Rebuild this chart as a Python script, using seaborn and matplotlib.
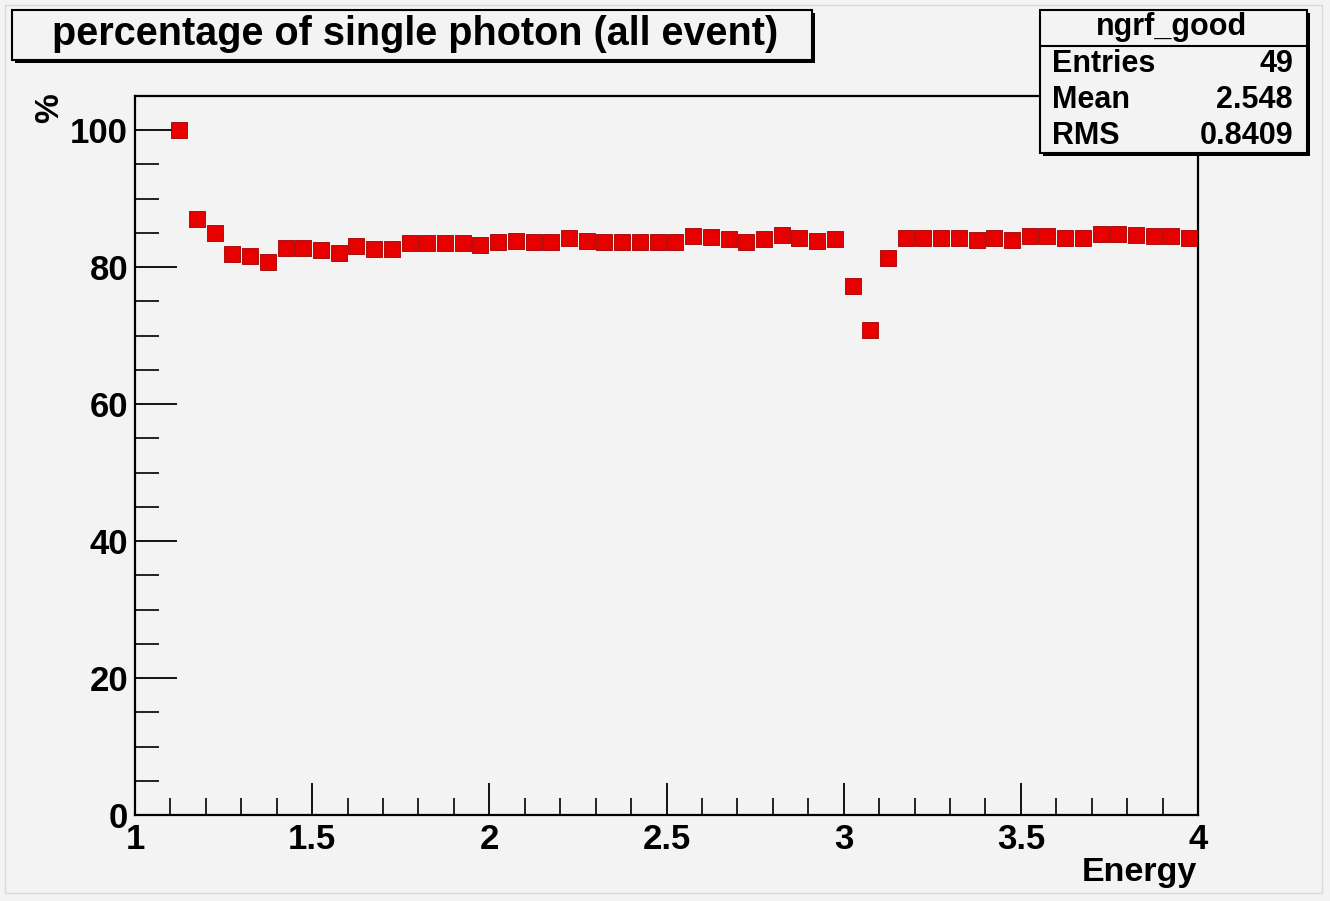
import numpy as np
import pandas as pd
import matplotlib
matplotlib.use("Agg")
import matplotlib.pyplot as plt
import seaborn as sns
from matplotlib.patches import Rectangle
from matplotlib.ticker import MultipleLocator

# bin centers (Energy) and percentage of single photon
energy = [1.125 + 0.05 * i for i in range(58)]
percent = [100.0, 87.1, 85.0, 81.9, 81.6, 80.8, 82.8, 82.8, 82.5, 82.1,
           83.1, 82.7, 82.7, 83.6, 83.6, 83.6, 83.6, 83.3, 83.7, 83.8,
           83.7, 83.7, 84.2, 83.8, 83.7, 83.7, 83.7, 83.7, 83.7, 84.5,
           84.4, 84.1, 83.7, 84.1, 84.7, 84.3, 83.8, 84.1, 77.3, 70.8,
           81.4, 84.2, 84.3, 84.3, 84.3, 84.0, 84.3, 84.0, 84.6, 84.5,
           84.3, 84.3, 84.9, 84.9, 84.7, 84.5, 84.6, 84.3]

title_text = "percentage of single photon (all event)"
stats_name = "ngrf_good"
stats_rows = [("Entries", "49"), ("Mean", "2.548"), ("RMS", "0.8409")]

df = pd.DataFrame({"Energy": energy, "pct": percent})

W, H = 1330, 901
bg = "#f3f3f3"

sns.set_style("ticks")
plt.rcParams['font.family'] = ['Liberation Sans', 'DejaVu Sans']
plt.rcParams['font.weight'] = 'bold'
plt.rcParams['text.color'] = 'black'
plt.rcParams['xtick.color'] = 'black'
plt.rcParams['ytick.color'] = 'black'
plt.rcParams['xtick.labelcolor'] = 'black'
plt.rcParams['ytick.labelcolor'] = 'black'

fig = plt.figure(figsize=(W / 100, H / 100), dpi=100, facecolor=bg)
ax = fig.add_axes([135 / W, 1 - 815 / H, (1198 - 135) / W, (815 - 96) / H])
ax.set_facecolor(bg)

sns.scatterplot(data=df, x="Energy", y="pct", marker="s", s=125,
                color="#e60000", edgecolor="#a00000", linewidth=0.6, ax=ax, zorder=3)

ax.set_xlim(1, 4)
ax.set_ylim(0, 105)
ax.xaxis.set_minor_locator(MultipleLocator(0.1))
ax.yaxis.set_major_locator(MultipleLocator(20))
ax.yaxis.set_minor_locator(MultipleLocator(5))
ax.set_xticks([1, 1.5, 2, 2.5, 3, 3.5, 4])
ax.set_xticklabels(["1", "1.5", "2", "2.5", "3", "3.5", "4"])
ax.tick_params(axis="x", which="major", direction="in", length=23, width=1.3,
               labelsize=25, pad=6)
ax.tick_params(axis="x", which="minor", direction="in", length=12, width=1.2)
ax.tick_params(axis="y", which="major", direction="in", length=30, width=1.3,
               labelsize=25, pad=5)
ax.tick_params(axis="y", which="minor", direction="in", length=17, width=1.2)
for lab in ax.get_xticklabels() + ax.get_yticklabels():
    lab.set_fontweight("bold")
for sp in ax.spines.values():
    sp.set_linewidth(1.6)
    sp.set_color("black")
ax.set_xlabel("")
ax.set_ylabel("")

# axis titles placed like ROOT
fig.text(1197 / W, 1 - 872 / H, "Energy", ha="right", va="center",
         fontsize=24.5, fontweight="bold")
fig.text(50 / W, 1 - 108 / H, "%", ha="center", va="center", rotation=90,
         fontsize=24, fontweight="bold")


def px_rect(x0, y0, x1, y1, **kw):
    r = Rectangle((x0 / W, 1 - y1 / H), (x1 - x0) / W, (y1 - y0) / H,
                  transform=fig.transFigure, **kw)
    fig.add_artist(r)
    return r


# title box with shadow
px_rect(15, 13, 815, 63, facecolor="black", edgecolor="none", zorder=5)
px_rect(12, 10, 812, 60, facecolor=bg, edgecolor="black", linewidth=1.5, zorder=6)
fig.text(415 / W, 1 - 34 / H, title_text, ha="center", va="center",
         fontsize=28.5, fontweight="bold", zorder=7)

# stats box
px_rect(1043, 13, 1310, 156, facecolor="black", edgecolor="none", zorder=5)
px_rect(1040, 10, 1307, 153, facecolor=bg, edgecolor="black", linewidth=1.5, zorder=6)
fig.add_artist(plt.Line2D([1040 / W, 1307 / W], [1 - 46 / H, 1 - 46 / H],
                          transform=fig.transFigure, color="black", lw=1.5, zorder=7))
fig.text(1172 / W, 1 - 27 / H, stats_name, ha="center", va="center",
         fontsize=22, fontweight="bold", zorder=7)
for i, (k, v) in enumerate(stats_rows):
    yy = 1 - (64 + 36 * i) / H
    fig.text(1052 / W, yy, k, ha="left", va="center", fontsize=22,
             fontweight="bold", zorder=7)
    fig.text(1293 / W, yy, v, ha="right", va="center", fontsize=22,
             fontweight="bold", zorder=7)

# outer pad frame
px_rect(5, 5, 1322, 893, facecolor="none", edgecolor="#d8d8d8", linewidth=1.0, zorder=1)

fig.savefig("out.png", dpi=100, facecolor=bg)
